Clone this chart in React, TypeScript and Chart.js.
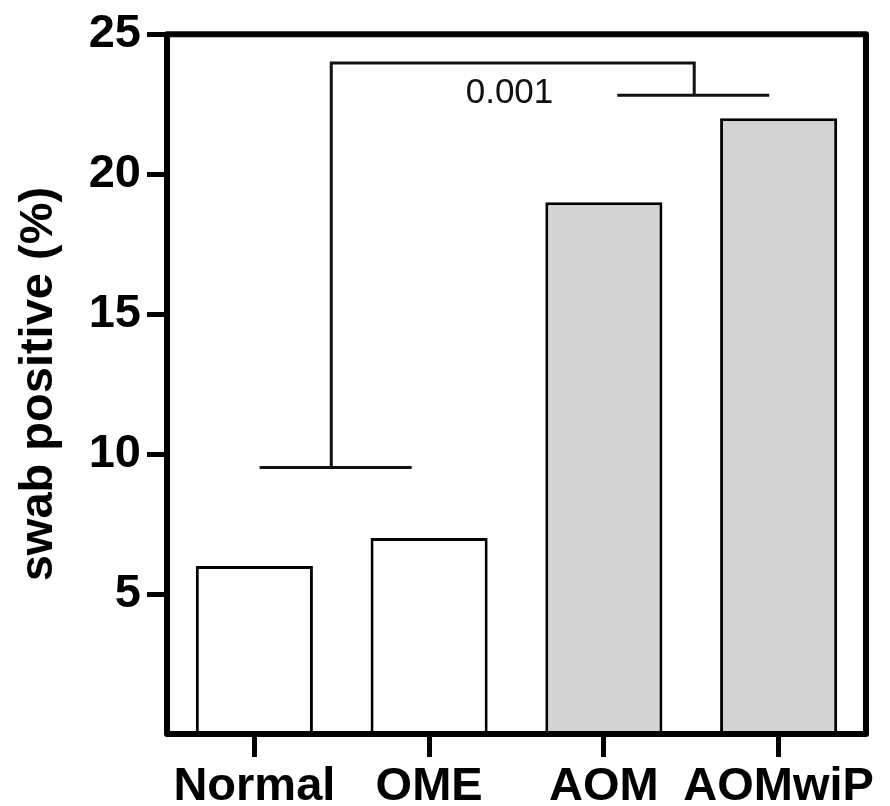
import React, { useEffect, useRef } from "react";
import { Chart, registerables } from "chart.js";

Chart.register(...registerables);

const categories = ["Normal", "OME", "AOM", "AOMwiP"];
const values = [6, 7, 19, 22];
const barColors = ["#ffffff", "#ffffff", "#d3d3d3", "#d3d3d3"];
const yTicks = [0, 5, 10, 15, 20, 25];
const yTitle = "swab positive (%)";

// significance bracket (category index units, data units)
const groupLeftLine = [0.03, 0.9];
const groupLeftY = 9.52;
const groupLeftStem = 0.44;
const groupRightLine = [2.077, 2.946];
const groupRightY = 22.82;
const groupRightStem = 2.517;
const bracketTopY = 23.97;
const pLabel = "0.001";
const pLabelX = 1.46;
const pLabelY = 22.87;

const FONT = "'Liberation Sans', Arial, sans-serif";

const framePlugin = {
  id: "frameAndBracket",
  afterDatasetsDraw(chart: any) {
    const { ctx, chartArea, scales } = chart;
    const x = scales.x;
    const y = scales.y;
    ctx.save();
    ctx.strokeStyle = "#111";
    ctx.lineWidth = 3;
    ctx.lineCap = "butt";
    ctx.beginPath();
    ctx.moveTo(x.getPixelForValue(groupLeftLine[0]), y.getPixelForValue(groupLeftY));
    ctx.lineTo(x.getPixelForValue(groupLeftLine[1]), y.getPixelForValue(groupLeftY));
    ctx.moveTo(x.getPixelForValue(groupRightLine[0]), y.getPixelForValue(groupRightY));
    ctx.lineTo(x.getPixelForValue(groupRightLine[1]), y.getPixelForValue(groupRightY));
    ctx.stroke();
    ctx.beginPath();
    ctx.moveTo(x.getPixelForValue(groupLeftStem), y.getPixelForValue(groupLeftY));
    ctx.lineTo(x.getPixelForValue(groupLeftStem), y.getPixelForValue(bracketTopY));
    ctx.lineTo(x.getPixelForValue(groupRightStem), y.getPixelForValue(bracketTopY));
    ctx.lineTo(x.getPixelForValue(groupRightStem), y.getPixelForValue(groupRightY));
    ctx.stroke();
    ctx.fillStyle = "#111";
    ctx.font = `35px ${FONT}`;
    ctx.textAlign = "center";
    ctx.textBaseline = "middle";
    ctx.fillText(pLabel, x.getPixelForValue(pLabelX), y.getPixelForValue(pLabelY));
    ctx.strokeStyle = "#000";
    ctx.lineWidth = 6;
    ctx.lineJoin = "round";
    ctx.strokeRect(
      chartArea.left,
      chartArea.top,
      chartArea.right - chartArea.left,
      chartArea.bottom - chartArea.top
    );
    ctx.restore();
  },
};

export default function App() {
  const ref = useRef<HTMLCanvasElement | null>(null);
  useEffect(() => {
    if (!ref.current) return;
    const chart = new Chart(ref.current, {
      type: "bar",
      data: {
        labels: categories,
        datasets: [
          {
            data: values,
            backgroundColor: barColors,
            borderColor: "#000",
            borderWidth: 3,
            borderSkipped: "start",
            barPercentage: 0.67,
            categoryPercentage: 1,
          },
        ],
      },
      options: {
        responsive: false,
        animation: false,
        layout: { padding: { top: 33, right: 24, left: 0, bottom: 0 } },
        plugins: { legend: { display: false }, tooltip: { enabled: false } },
        scales: {
          x: {
            grid: {
              display: true,
              drawOnChartArea: false,
              drawTicks: true,
              offset: false,
              tickLength: 23,
              tickWidth: 5,
              tickColor: "#000",
            },
            border: { display: false },
            ticks: {
              color: "#000",
              font: { family: FONT, size: 47, weight: "bold" },
              padding: 2,
              maxRotation: 0,
              autoSkip: false,
            },
            afterFit(scale: any) {
              scale.height = 72;
            },
          },
          y: {
            min: 0,
            max: 25,
            afterBuildTicks(scale: any) {
              scale.ticks = yTicks.map((v) => ({ value: v }));
            },
            grid: {
              display: true,
              drawOnChartArea: false,
              drawTicks: true,
              tickLength: 20,
              tickWidth: 5,
              tickColor: (c: any) => (c.tick && c.tick.value === 0 ? "rgba(0,0,0,0)" : "#000"),
            },
            border: { display: false },
            ticks: {
              color: "#000",
              font: { family: FONT, size: 47, weight: "bold" },
              padding: 6,
              callback: (v: any) => (v === 0 ? "" : String(v)),
            },
            title: {
              display: true,
              text: yTitle,
              color: "#000",
              font: { family: FONT, size: 47, weight: "bold" },
              padding: { top: 11, bottom: 0 },
            },
            afterFit(scale: any) {
              scale.width = 167;
            },
          },
        },
      },
      plugins: [framePlugin],
    } as any);
    return () => chart.destroy();
  }, []);
  return (
    <div style={{ position: "absolute", left: 0, top: 0, width: 890, height: 806, background: "#fff" }}>
      <canvas ref={ref} width={890} height={806} />
    </div>
  );
}
